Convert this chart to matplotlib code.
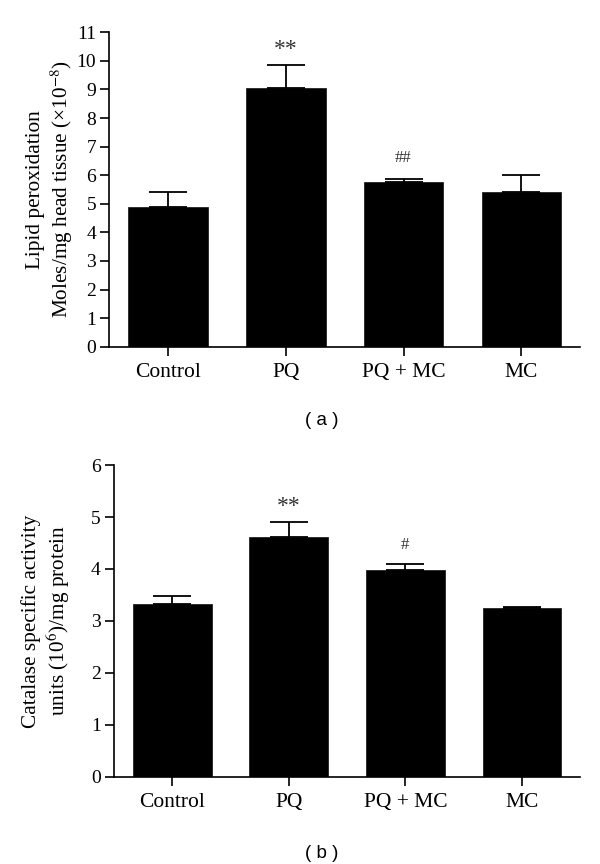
import matplotlib
matplotlib.use('Agg')
import matplotlib.pyplot as plt

# %%
groups = ['Control', 'PQ', 'PQ + MC', 'MC']

lipid = [4.89, 9.06, 5.76, 5.42]
lipid_err = [0.53, 0.80, 0.10, 0.58]
lipid_marks = ['', '**', '##', '']
lipid_mark_y = [0, 10.4, 6.6, 0]

catalase = [3.33, 4.62, 3.98, 3.24]
catalase_err = [0.15, 0.29, 0.11, 0.02]
catalase_marks = ['', '**', '#', '']
catalase_mark_y = [0, 5.2, 4.47, 0]

plt.rcParams['font.family'] = ['Liberation Serif', 'DejaVu Serif']
plt.rcParams['mathtext.fontset'] = 'stix'

fig = plt.figure(figsize=(6, 8.64), dpi=100)


def panel(rect, vals, errs, marks, mark_y, ymax, ylabel, label_x):
    ax = fig.add_axes(rect)
    x = range(len(vals))
    ax.bar(x, vals, width=0.675, color='black', edgecolor='#222222', linewidth=0.6, zorder=2)
    ax.errorbar(x, vals, yerr=[[0] * len(errs), errs], fmt='none', ecolor='black',
                elinewidth=1.3, capsize=14, capthick=1.3, zorder=3)
    for i, m in enumerate(marks):
        if m:
            fs = 17 if '*' in m else 12
            ax.text(i, mark_y[i], m, ha='center', va='center', fontsize=fs, color='#333333')
    ax.set_xlim(-0.5, 3.5)
    ax.set_ylim(0, ymax)
    ax.set_yticks(range(0, ymax + 1))
    ax.set_xticks(list(x))
    ax.set_xticklabels(groups)
    ax.spines['top'].set_visible(False)
    ax.spines['right'].set_visible(False)
    for s in ['left', 'bottom']:
        ax.spines[s].set_linewidth(1.2)
    ax.tick_params(direction='out', length=6.5, width=1.2, labelsize=14, pad=3)
    ax.tick_params(axis='x', labelsize=15.5, pad=5)
    ax.set_ylabel(ylabel, fontsize=15.3, linespacing=1.2, multialignment='center')
    ax.yaxis.set_label_coords(label_x, 0.5)
    return ax


panel([0.182, 0.5987, 0.785, 0.3639], lipid, lipid_err, lipid_marks, lipid_mark_y, 11,
      'Lipid peroxidation\nMoles/mg head tissue (×10$^{-8}$)', -0.072)
panel([0.19, 0.101, 0.777, 0.3607], catalase, catalase_err, catalase_marks, catalase_mark_y, 6,
      'Catalase specific activity\nunits (10$^{6}$)/mg protein', -0.09)

fig.text(0.536, 1 - 420 / 864, '( a )', ha='center', va='center', fontsize=13.5,
         family=['Liberation Sans', 'DejaVu Sans'])
fig.text(0.536, 1 - 853 / 864, '( b )', ha='center', va='center', fontsize=13.5,
         family=['Liberation Sans', 'DejaVu Sans'])

plt.savefig('out.png', dpi=100)
